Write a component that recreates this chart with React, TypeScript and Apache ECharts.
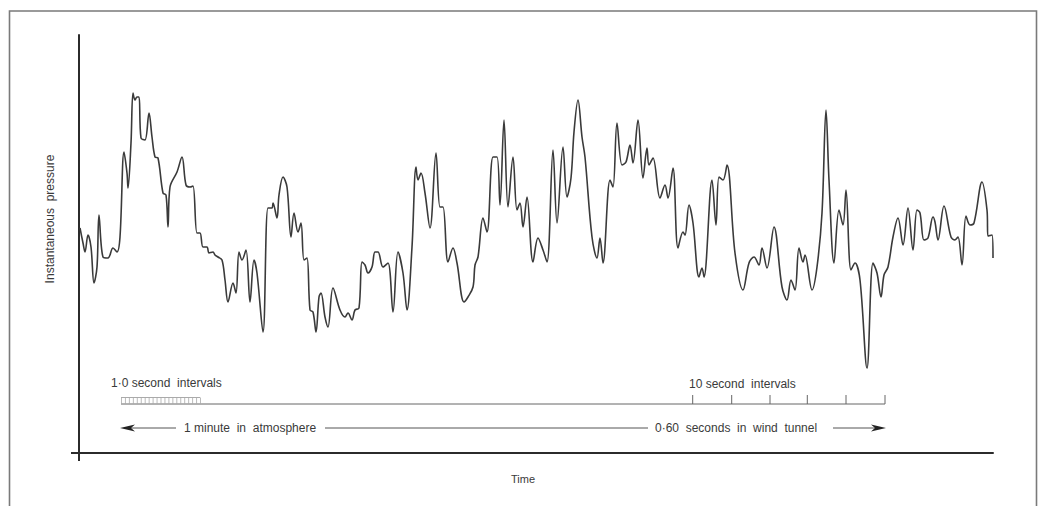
import React, { useEffect, useRef } from "react";
import * as echarts from "echarts";

// Pressure record: time (arbitrary units along the record) and instantaneous pressure (arbitrary units)
const timeUnits = [
  1, 4, 6, 9, 12, 15, 18, 20, 24, 29, 34, 38, 41, 45, 48, 49, 52, 54, 56, 58, 60, 62, 66, 70, 73, 76, 79,
  84, 87, 89, 91, 98, 103, 107, 111, 114, 118, 121, 124, 128, 130, 134, 136, 139, 143, 146, 149, 154, 157,
  160, 163, 167, 171, 175, 178, 184, 189, 193, 194, 198, 200, 204, 208, 212, 215, 219, 222, 225, 228, 231,
  234, 237, 240, 242, 246, 249, 254, 261, 266, 269, 273, 276, 280, 283, 286, 289, 293, 296, 299, 304, 309,
  314, 319, 324, 328, 333, 337, 339, 342, 346, 351, 357, 361, 364, 369, 374, 378, 385, 389, 394, 396, 399,
  404, 408, 414, 418, 421, 425, 429, 434, 438, 441, 444, 448, 454, 459, 464, 468, 474, 478, 484, 488, 492,
  495, 499, 503, 506, 513, 518, 521, 524, 531, 534, 538, 543, 547, 551, 554, 559, 564, 568, 570, 574, 581,
  586, 589, 594, 599, 604, 606, 610, 614, 620, 623, 625, 633, 637, 640, 644, 648, 656, 664, 670, 675, 680,
  683, 688, 695, 703, 708, 712, 716, 720, 724, 726, 733, 738, 743, 747, 750, 755, 760, 764, 767, 772, 776,
  781, 788, 794, 798, 802, 805, 809, 814, 819, 824, 829, 834, 838, 841, 845, 849, 854, 856, 859, 865, 872,
  876, 879, 883, 887, 891, 895, 903, 908, 909, 913, 914,
];
const pressure = [
  225, 210, 201, 218, 206, 170, 186, 238, 196, 195, 205, 201, 216, 301, 280, 265, 310, 360, 353, 356, 356,
  315, 313, 340, 316, 296, 295, 260, 258, 226, 266, 281, 296, 268, 266, 267, 220, 220, 206, 206, 200, 201,
  198, 196, 193, 173, 151, 170, 160, 201, 193, 203, 151, 193, 180, 121, 245, 245, 250, 235, 258, 276, 266,
  216, 240, 221, 230, 193, 195, 143, 141, 121, 156, 160, 136, 126, 165, 143, 136, 140, 133, 143, 145, 191,
  188, 180, 186, 201, 201, 186, 190, 141, 201, 180, 143, 206, 286, 273, 280, 260, 225, 300, 246, 246, 191,
  205, 190, 151, 156, 166, 188, 196, 235, 221, 296, 296, 248, 333, 246, 296, 243, 250, 226, 256, 191, 215,
  203, 191, 303, 230, 306, 256, 275, 321, 353, 316, 296, 216, 195, 215, 190, 273, 266, 330, 288, 291, 308,
  290, 333, 275, 305, 288, 295, 255, 268, 255, 285, 205, 221, 218, 248, 230, 176, 185, 176, 273, 228, 276,
  273, 288, 200, 163, 190, 196, 188, 205, 185, 226, 166, 153, 173, 163, 205, 191, 198, 163, 186, 240, 343,
  273, 190, 243, 228, 263, 183, 190, 173, 85, 190, 180, 156, 178, 186, 216, 235, 208, 245, 203, 243, 240,
  213, 215, 236, 231, 213, 247, 216, 213, 216, 188, 237, 228, 230, 271, 243, 217, 218, 195,
];

// Scale marks under the record (positions of the 10-second ticks along the wind-tunnel scale)
const tenSecondTicks = [692.7, 731.7, 770, 807.3, 846, 885];

const FONT = "'Liberation Sans', Arial, sans-serif";
const INK = "#2b2b2b";
const TEXT = "#3a3a3a";

export default function App() {
  const ref = useRef<HTMLDivElement>(null);

  useEffect(() => {
    if (!ref.current) return;
    const chart = echarts.init(ref.current, undefined, { renderer: "svg" });

    const graphic: any[] = [];
    // outer frame (runs off the bottom edge)
    graphic.push({
      type: "rect",
      shape: { x: 9.5, y: 11, width: 1027, height: 510 },
      style: { fill: "none", stroke: "#7a7a7a", lineWidth: 1.6 },
      silent: true,
    });
    // axis extensions past the origin
    graphic.push({ type: "line", shape: { x1: 79, y1: 453, x2: 79, y2: 461 }, style: { stroke: INK, lineWidth: 2 } });
    graphic.push({ type: "line", shape: { x1: 71, y1: 453, x2: 79, y2: 453 }, style: { stroke: INK, lineWidth: 2 } });

    // axis titles
    graphic.push({
      type: "text",
      x: 50,
      y: 219,
      rotation: Math.PI / 2,
      style: { text: "Instantaneous  pressure", font: `12px ${FONT}`, fill: TEXT, align: "center", verticalAlign: "middle" },
    });
    graphic.push({
      type: "text",
      x: 523,
      y: 479,
      style: { text: "Time", font: `11px ${FONT}`, fill: TEXT, align: "center", verticalAlign: "middle" },
    });

    // interval scale
    graphic.push({
      type: "text",
      x: 111,
      y: 383,
      style: { text: "1·0 second  intervals", font: `12px ${FONT}`, fill: TEXT, verticalAlign: "middle" },
    });
    graphic.push({
      type: "text",
      x: 689,
      y: 384,
      style: { text: "10 second  intervals", font: `12px ${FONT}`, fill: TEXT, verticalAlign: "middle" },
    });
    graphic.push({ type: "line", shape: { x1: 121, y1: 404, x2: 885, y2: 404 }, style: { stroke: "#666", lineWidth: 1 } });
    tenSecondTicks.forEach((x) => {
      graphic.push({ type: "line", shape: { x1: x, y1: 395, x2: x, y2: 404 }, style: { stroke: "#666", lineWidth: 1 } });
    });
    // fine 1-second ticks strip
    graphic.push({ type: "line", shape: { x1: 121, y1: 397.5, x2: 200, y2: 397.5 }, style: { stroke: "#aaa", lineWidth: 1 } });
    for (let x = 121.5; x <= 200.5; x += 3.95) {
      graphic.push({ type: "line", shape: { x1: x, y1: 397.5, x2: x, y2: 404 }, style: { stroke: "#aaa", lineWidth: 0.8 } });
    }

    // double-headed time arrow with captions
    graphic.push({ type: "line", shape: { x1: 128, y1: 428, x2: 176, y2: 428 }, style: { stroke: "#555", lineWidth: 1 } });
    graphic.push({
      type: "polygon",
      shape: { points: [[120, 428], [135, 424.5], [131, 428], [135, 431.5]] },
      style: { fill: "#222" },
    });
    graphic.push({
      type: "text",
      x: 184,
      y: 428,
      style: { text: "1 minute  in  atmosphere", font: `12px ${FONT}`, fill: TEXT, verticalAlign: "middle" },
    });
    graphic.push({ type: "line", shape: { x1: 325, y1: 428, x2: 648, y2: 428 }, style: { stroke: "#555", lineWidth: 1 } });
    graphic.push({
      type: "text",
      x: 655,
      y: 428,
      style: { text: "0·60  seconds  in  wind  tunnel", font: `12px ${FONT}`, fill: TEXT, verticalAlign: "middle" },
    });
    graphic.push({ type: "line", shape: { x1: 833, y1: 428, x2: 878, y2: 428 }, style: { stroke: "#555", lineWidth: 1 } });
    graphic.push({
      type: "polygon",
      shape: { points: [[886, 428], [871, 424.5], [875, 428], [871, 431.5]] },
      style: { fill: "#222" },
    });

    chart.setOption({
      animation: false,
      backgroundColor: "#ffffff",
      grid: { left: 79, top: 35, right: 55, bottom: 53 },
      xAxis: {
        type: "value",
        min: 0,
        max: 914,
        axisLine: { show: true, onZero: false, lineStyle: { color: INK, width: 2 } },
        axisTick: { show: false },
        axisLabel: { show: false },
        splitLine: { show: false },
      },
      yAxis: {
        type: "value",
        min: 0,
        max: 418,
        axisLine: { show: true, onZero: false, lineStyle: { color: INK, width: 2 } },
        axisTick: { show: false },
        axisLabel: { show: false },
        splitLine: { show: false },
      },
      series: [
        {
          type: "line",
          data: timeUnits.map((t, i) => [t, pressure[i]]),
          showSymbol: false,
          smooth: 0.35,
          lineStyle: { color: "#3a3a3a", width: 1.6 },
          clip: false,
        },
      ],
      graphic,
    });

    return () => chart.dispose();
  }, []);

  return (
    <div
      ref={ref}
      style={{ position: "absolute", left: 0, top: 0, width: 1048, height: 506, background: "#fff" }}
    />
  );
}
